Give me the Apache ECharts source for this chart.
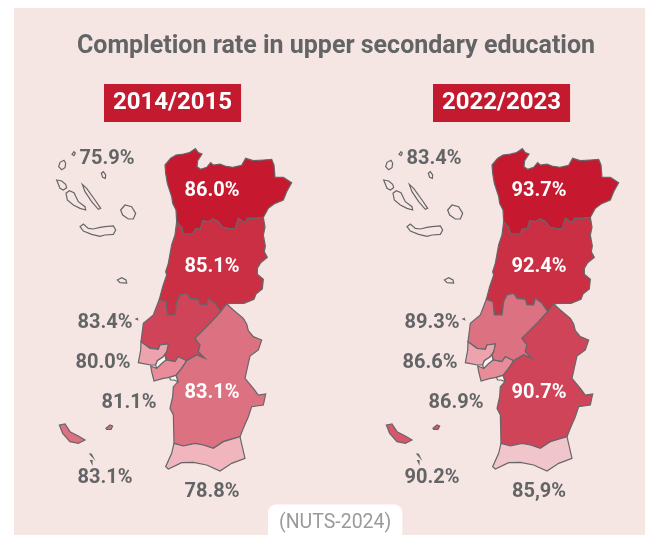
<!DOCTYPE html>
<html>
<head>
    <meta charset="utf-8">
    <script src="https://cdn.jsdelivr.net/npm/echarts@6/dist/echarts.min.js"></script>
    <style type="text/css">
        html, body { margin: 0; background: #fff; }
        #main { width: 645px; height: 535px; }
    </style>
</head>
<body>
    <div id="main"></div>
    <script>
        const regions = ['Açores', 'Norte', 'Centro', 'Oeste e Vale do Tejo', 'Grande Lisboa', 'Península de Setúbal', 'Alentejo', 'Madeira', 'Algarve'];
        const values2014 = [75.9, 86.0, 85.1, 83.4, 80.0, 81.1, 83.1, 83.1, 78.8];
        const values2022 = [83.4, 93.7, 92.4, 89.3, 86.6, 86.9, 90.7, 90.2, 85.9];
        const years = ['2014/2015', '2022/2023'];

        // region shades, same order as regions
        const shades2014 = ['#f6e6e3', '#c6182e', '#cb2f44', '#cf4458', '#eda3ae', '#e98c99', '#dc7181', '#dc7181', '#f0b5bd'];
        const shades2022 = ['#f6e6e3', '#c6182e', '#cb2f44', '#dc7181', '#eda3ae', '#e98c99', '#cf4458', '#d8566b', '#f0c5cb'];

        const crop = (ox, oy, pts) => pts.map(p => [ox + p[0] / 3, oy + p[1] / 3]);
        const A = pts => crop(50, 140, pts);
        const B = pts => crop(50, 300, pts);
        const C = pts => crop(50, 145, pts);
        const back = pts => pts.slice().reverse();

        // shared borders
        const norteCentro = A([[380,245],[395,262],[400,282],[430,282],[435,268],[452,265],[458,243],[475,245],[490,237],[505,245],[518,262],[535,265],[555,268],[565,235],[585,248],[592,235],[615,235],[640,232]]);
        const norteOuter = A([[380,245],[378,210],[368,190],[365,170],[352,130],[347,100],[345,75],[362,55],[378,45],[400,42],[418,38],[436,26],[445,38],[456,42],[443,62],[441,80],[452,88],[470,82],[482,68],[490,75],[510,72],[525,78],[548,82],[575,76],[587,55],[610,62],[640,60],[665,58],[672,75],[675,112],[700,112],[725,128],[710,155],[700,180],[672,192],[655,205],[640,232]]);
        const centroEast = A([[640,232],[645,262],[640,285],[646,318],[643,335],[652,352],[632,368],[622,385],[622,403],[640,418],[637,447],[618,462],[612,478],[582,490],[545,490],[530,492],[512,515]]);
        const centroOvt = A([[328,478],[348,485],[352,525],[375,525],[380,485],[390,465],[410,460],[420,475],[445,478],[450,495],[470,495],[475,475],[495,490],[512,515]]);
        const centroCoast = A([[328,478],[338,440],[350,405],[347,395],[355,370],[365,315],[375,285],[380,245]]);
        const ovtAlentejo = B([[512,35],[485,65],[455,95],[435,115],[450,135],[445,155],[465,175],[440,165],[410,182]]);
        const ovtSouth = B([[410,182],[385,170],[375,185],[350,180],[345,165],[350,155],[355,132],[330,135],[325,148],[300,145],[273,125]]);
        const ovtCoast = B([[273,125],[280,70],[310,45],[328,-2]]);
        const alentejoAlgarve = B([[372,430],[400,438],[435,430],[460,435],[490,445],[520,425],[570,410]]);

        const shapes = {
            'Norte': [norteOuter.concat(back(norteCentro))],
            'Centro': [norteCentro.concat(centroEast, back(centroOvt), centroCoast)],
            'Oeste e Vale do Tejo': [
                centroOvt.concat(ovtAlentejo, ovtSouth, ovtCoast),
                B([[258,57],[262,55],[263,59]])
            ],
            'Grande Lisboa': [B([[273,125],[300,145],[325,148],[330,135],[355,132],[350,155],[340,170],[322,182],[317,195],[302,195],[265,188],[272,150]])],
            'Península de Setúbal': [B([[302,198],[320,205],[335,190],[348,180],[375,185],[385,170],[410,182],[395,205],[378,226],[358,232],[340,235],[312,243],[305,215]])],
            'Alentejo': [B([[512,35],[530,12],[550,30],[580,55],[590,72],[595,92],[610,110],[635,120],[625,150],[600,168],[595,190],[585,235],[610,265],[625,285],[647,282],[640,315],[605,320],[595,350],[580,385],[570,410]]).concat(back(alentejoAlgarve), B([[370,345],[360,325],[368,290],[370,260],[384,245],[378,226],[395,205],[410,182]]), back(ovtAlentejo))],
            'Algarve': [alentejoAlgarve.concat(B([[585,475],[545,490],[510,513],[470,495],[430,487],[395,488],[355,507],[347,500],[365,460]]))],
            'Madeira': [
                B([[28,375],[45,372],[60,395],[85,408],[105,420],[85,430],[60,425],[38,400]]),
                B([[168,385],[180,375],[188,378],[183,388],[170,388]]),
                B([[120,462],[124,462],[129,472],[126,473]]),
                B([[122,482],[126,482],[126,490],[123,490]])
            ],
            'Açores': [
                C([[66,28],[72,20],[76,24],[72,32]]),
                C([[26,65],[30,52],[42,46],[47,55],[45,68],[35,74]]),
                C([[154,85],[160,80],[167,90],[166,100],[158,97]]),
                C([[20,105],[35,108],[47,118],[50,128],[40,135],[30,130]]),
                C([[48,145],[58,137],[72,143],[85,170],[105,185],[107,195],[90,190],[70,180],[52,165]]),
                C([[97,118],[110,130],[135,165],[152,190],[145,193],[125,170],[105,140]]),
                C([[212,195],[225,180],[245,185],[257,205],[250,222],[235,222],[218,210]]),
                C([[90,245],[100,237],[115,250],[130,252],[150,247],[165,245],[190,243],[197,255],[190,268],[165,270],[150,274],[125,268],[100,258]]),
                C([[202,405],[215,398],[228,405],[230,414],[210,413]])
            ],
            'Estuários': [
                B([[340,170],[345,165],[348,180],[335,190],[320,205],[317,195],[322,182]]),
                B([[358,232],[378,226],[384,245],[372,240],[362,240]])
            ]
        };

        const close = ring => ring.concat([ring[0]]);
        echarts.registerMap('portugal', {
            type: 'FeatureCollection',
            features: Object.keys(shapes).map(name => ({
                type: 'Feature',
                properties: { name },
                geometry: { type: 'MultiPolygon', coordinates: shapes[name].map(r => [close(r)]) }
            }))
        });

        // where each number sits on the map, same order as regions
        const labelSpots = [[107,157],[212,189],[212,265],[105,321],[103,361],[129,401],[212,391],[105,476],[212,490]];
        const onDark = { 'Norte': 1, 'Centro': 1, 'Alentejo': 1 };
        const mapShift = 327;

        const labelColor = '#636466';
        const font = 'Roboto, Arial, sans-serif';

        function makeGeo(shades, left) {
            return {
                map: 'portugal',
                silent: true,
                roam: false,
                projection: { project: p => p, unproject: p => p },
                boundingCoords: [[0, 0], [645, 535]],
                left: left, top: 0, width: 645, height: 535,
                label: { show: false },
                itemStyle: { borderColor: '#666668', borderWidth: 1.2, areaColor: '#f6e6e3' },
                regions: regions.map((name, i) => ({ name, itemStyle: { areaColor: shades[i] } }))
                    .concat([{ name: 'Estuários', itemStyle: { areaColor: '#fbf4f2' } }])
            };
        }

        function makeLabels(values, geoIndex) {
            return {
                type: 'scatter',
                coordinateSystem: 'geo',
                geoIndex,
                symbolSize: 0,
                silent: true,
                z: 5,
                itemStyle: { opacity: 1 },
                data: regions.map((name, i) => {
                    let text = values[i].toFixed(1) + '%';
                    if (geoIndex === 1 && name === 'Algarve') text = text.replace('.', ','); // the source prints this one with a comma
                    return {
                        name,
                        value: labelSpots[i],
                        label: {
                            show: true, position: 'inside', formatter: text, offset: [0, 2],
                            color: onDark[name] ? '#fff' : labelColor,
                            fontFamily: font, fontWeight: 'bold', fontSize: 20
                        }
                    };
                })
            };
        }

        function yearBox(text, left) {
            return {
                text, left, top: 84,
                padding: [7, 9],
                backgroundColor: '#c41a2f',
                textStyle: { color: '#fff', fontFamily: font, fontWeight: 'bold', fontSize: 24, lineHeight: 24 }
            };
        }

        const myChart = echarts.init(document.getElementById('main'));
        myChart.setOption({
            animation: false,
            graphic: { elements: [{
                type: 'rect', silent: true, z: -10,
                shape: { x: 14, y: 8, width: 631, height: 527 },
                style: { fill: '#f6e6e3' }
            }] },
            title: [
                {
                    text: 'Completion rate in upper secondary education',
                    left: 331, top: 29, textAlign: 'center',
                    textStyle: { color: labelColor, fontFamily: font, fontWeight: 'bold', fontSize: 25 }
                },
                yearBox(years[0], 104),
                yearBox(years[1], 433),
                {
                    text: '(NUTS-2024)',
                    left: 268, top: 505,
                    padding: [9, 11, 11, 11],
                    borderRadius: [8, 8, 0, 0],
                    backgroundColor: '#fff',
                    textStyle: { color: '#9a9b9d', fontFamily: font, fontWeight: 'normal', fontSize: 19.5, lineHeight: 19 }
                }
            ],
            geo: [makeGeo(shades2014, 0), makeGeo(shades2022, mapShift)],
            series: [makeLabels(values2014, 0), makeLabels(values2022, 1)]
        });
    </script>
</body>
</html>
